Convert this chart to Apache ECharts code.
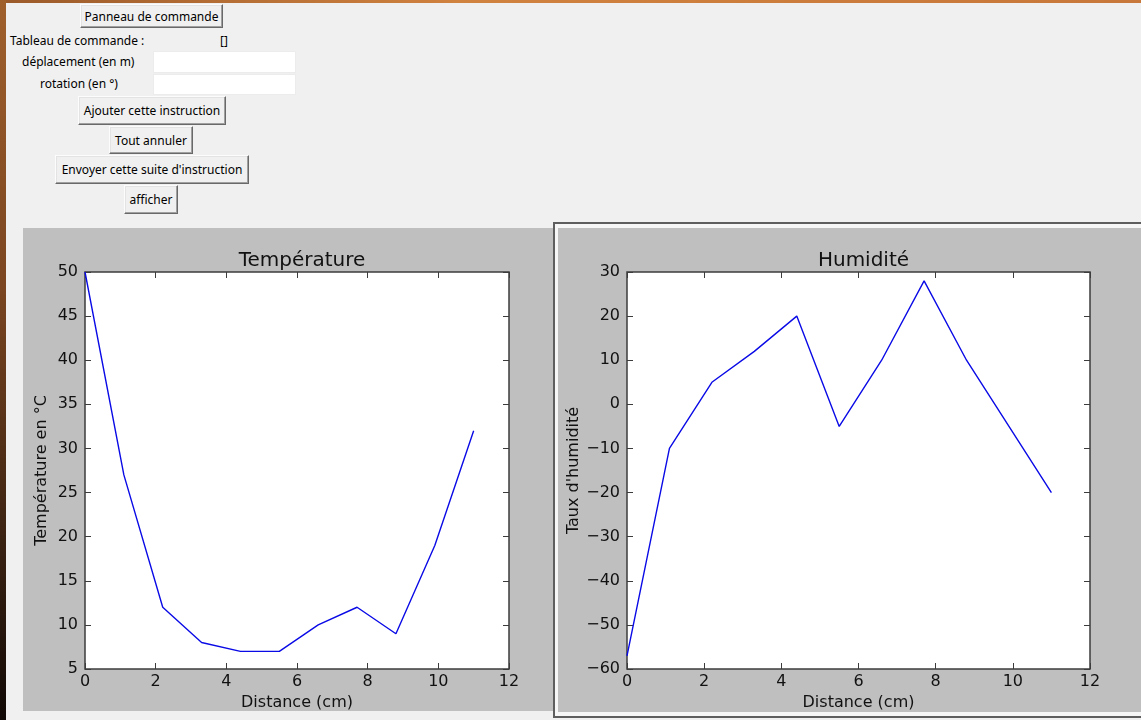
<!DOCTYPE html>
<html>
<head>
<meta charset="utf-8">
<script src="https://cdn.jsdelivr.net/npm/echarts/dist/echarts.min.js"></script>
<style>
  html, body { margin:0; padding:0; }
  body { width:1141px; height:720px; background:#f0f0f0; position:relative; overflow:hidden; font-family:"Noto Sans", sans-serif; font-size:12px; color:#000; }
  .abs { position:absolute; }
  .btn { position:absolute; box-sizing:border-box; background:#f0f0f0; border:1px solid; border-color:#fcfcfc #696969 #696969 #fcfcfc; box-shadow: inset -1px -1px 0 #a0a0a0, inset 1px 1px 0 #e3e3e3; display:flex; align-items:center; justify-content:center; white-space:nowrap; }
  .lbl { position:absolute; white-space:nowrap; height:18px; line-height:18px; }
  .entry { position:absolute; background:#fff; box-sizing:border-box; border:1px solid #ececec; }
  #chart { position:absolute; left:0; top:0; width:1141px; height:720px; z-index:3; }
</style>
</head>
<body>
<!-- desktop edges -->
<div class="abs" style="left:0;top:0;width:1141px;height:3px;background:linear-gradient(90deg,#9b5a2a,#d0823f 40%,#c8783a 100%);"></div>
<div class="abs" style="left:0;top:0;width:6px;height:720px;background:linear-gradient(180deg,#a0602c 0%,#7a4520 40%,#3a2212 75%,#100805 100%);"></div>

<!-- control panel -->
<div class="btn" style="left:80px;top:4px;width:143px;height:24px;">Panneau de commande</div>
<div class="lbl" style="left:10px;top:32px;">Tableau de commande :</div>
<div class="lbl" style="left:220px;top:32px;">[]</div>
<div class="lbl" style="left:22px;top:53px;">déplacement (en m)</div>
<div class="entry" style="left:153px;top:51px;width:143px;height:22px;"></div>
<div class="lbl" style="left:40px;top:75px;">rotation (en °)</div>
<div class="entry" style="left:153px;top:74px;width:143px;height:21px;"></div>
<div class="btn" style="left:78px;top:96px;width:148px;height:29px;">Ajouter cette instruction</div>
<div class="btn" style="left:109px;top:126px;width:84px;height:28px;">Tout annuler</div>
<div class="btn" style="left:55px;top:155px;width:194px;height:29px;">Envoyer cette suite d'instruction</div>
<div class="btn" style="left:124px;top:185px;width:54px;height:29px;">afficher</div>

<!-- figure backgrounds -->
<div class="abs" style="left:23px;top:228px;width:530px;height:483px;background:#bfbfbf;"></div>
<div class="abs" style="left:553px;top:222px;width:700px;height:496px;box-sizing:border-box;border:2px solid #5e5e5e;background:#f6f6f6;">
  <div class="abs" style="left:3px;top:4px;right:0;bottom:4px;background:#bfbfbf;"></div>
</div>

<div id="chart"></div>

<script>
// ---- data ----
const distance    = [0, 1.1, 2.2, 3.3, 4.4, 5.5, 6.6, 7.7, 8.8, 9.9, 11];
const temperature = [50, 27, 12, 8, 7, 7, 10, 12, 9, 19, 32];
const humidity    = [-57, -10, 5, 12, 20, -5, 10, 28, 10, -5, -20];
const titles      = ['Température', 'Humidité'];
const xLabel      = 'Distance (cm)';
const yLabels     = ['Température en °C', "Taux d'humidité"];
const xRange      = { min: 0, max: 12, interval: 2 };
const tempRange   = { min: 5, max: 50, interval: 5 };
const humRange    = { min: -60, max: 30, interval: 10 };

// ---- chart ----
const chart = echarts.init(document.getElementById('chart'), null, { renderer: 'canvas' });
const FONT = 'DejaVu Sans';
const TXT = '#111111';
const FRAME = '#3c3c3c';
const fmt = v => String(v).replace('-', '\u2212');

const grids = [
  { left: 85, top: 272, width: 424, height: 397 },
  { left: 627, top: 272, width: 463, height: 397 }
];
const yRanges = [tempRange, humRange];
const yGaps = [35, 39];

const tick = { show: true, inside: true, length: 6, lineStyle: { color: FRAME, width: 1 } };
const noLine = { show: false, onZero: false };

const xAxes = [], yAxes = [];
grids.forEach((g, i) => {
  xAxes.push({
    gridIndex: i, type: 'value', position: 'bottom', ...xRange,
    axisLine: noLine, axisTick: tick, splitLine: { show: false },
    axisLabel: { fontFamily: FONT, fontSize: 16, color: TXT, margin: 5, formatter: fmt },
    name: xLabel, nameLocation: 'middle', nameGap: 22,
    nameTextStyle: { fontFamily: FONT, fontSize: 16, color: TXT }
  });
  xAxes.push({
    gridIndex: i, type: 'value', position: 'top', ...xRange,
    axisLine: noLine, axisTick: tick, splitLine: { show: false },
    axisLabel: { show: false }
  });
  yAxes.push({
    gridIndex: i, type: 'value', position: 'left', ...yRanges[i],
    axisLine: noLine, axisTick: tick, splitLine: { show: false },
    axisLabel: { fontFamily: FONT, fontSize: 16, color: TXT, margin: 7, formatter: fmt },
    name: yLabels[i], nameLocation: 'middle', nameGap: yGaps[i],
    nameTextStyle: { fontFamily: FONT, fontSize: 16, color: TXT }
  });
  yAxes.push({
    gridIndex: i, type: 'value', position: 'right', ...yRanges[i],
    axisLine: noLine, axisTick: tick, splitLine: { show: false },
    axisLabel: { show: false }
  });
});

const mkSeries = (vals, i) => ({
  type: 'line', xAxisIndex: i * 2, yAxisIndex: i * 2,
  data: distance.map((d, k) => [d, vals[k]]),
  showSymbol: false, symbol: 'none',
  lineStyle: { color: '#0a0ae6', width: 1.4 },
  emphasis: { disabled: true }, silent: true
});

chart.setOption({
  animation: false,
  backgroundColor: 'transparent',
  title: titles.map((t, i) => ({
    text: t, left: grids[i].left + grids[i].width / 2, top: 246, textAlign: 'center',
    textStyle: { fontFamily: FONT, fontSize: 20, fontWeight: 'normal', color: TXT }
  })),
  grid: grids.map(g => ({ ...g, show: true, backgroundColor: '#ffffff', borderColor: FRAME, borderWidth: 1.5, containLabel: false })),
  xAxis: xAxes,
  yAxis: yAxes,
  series: [mkSeries(temperature, 0), mkSeries(humidity, 1)]
});
</script>
</body>
</html>
